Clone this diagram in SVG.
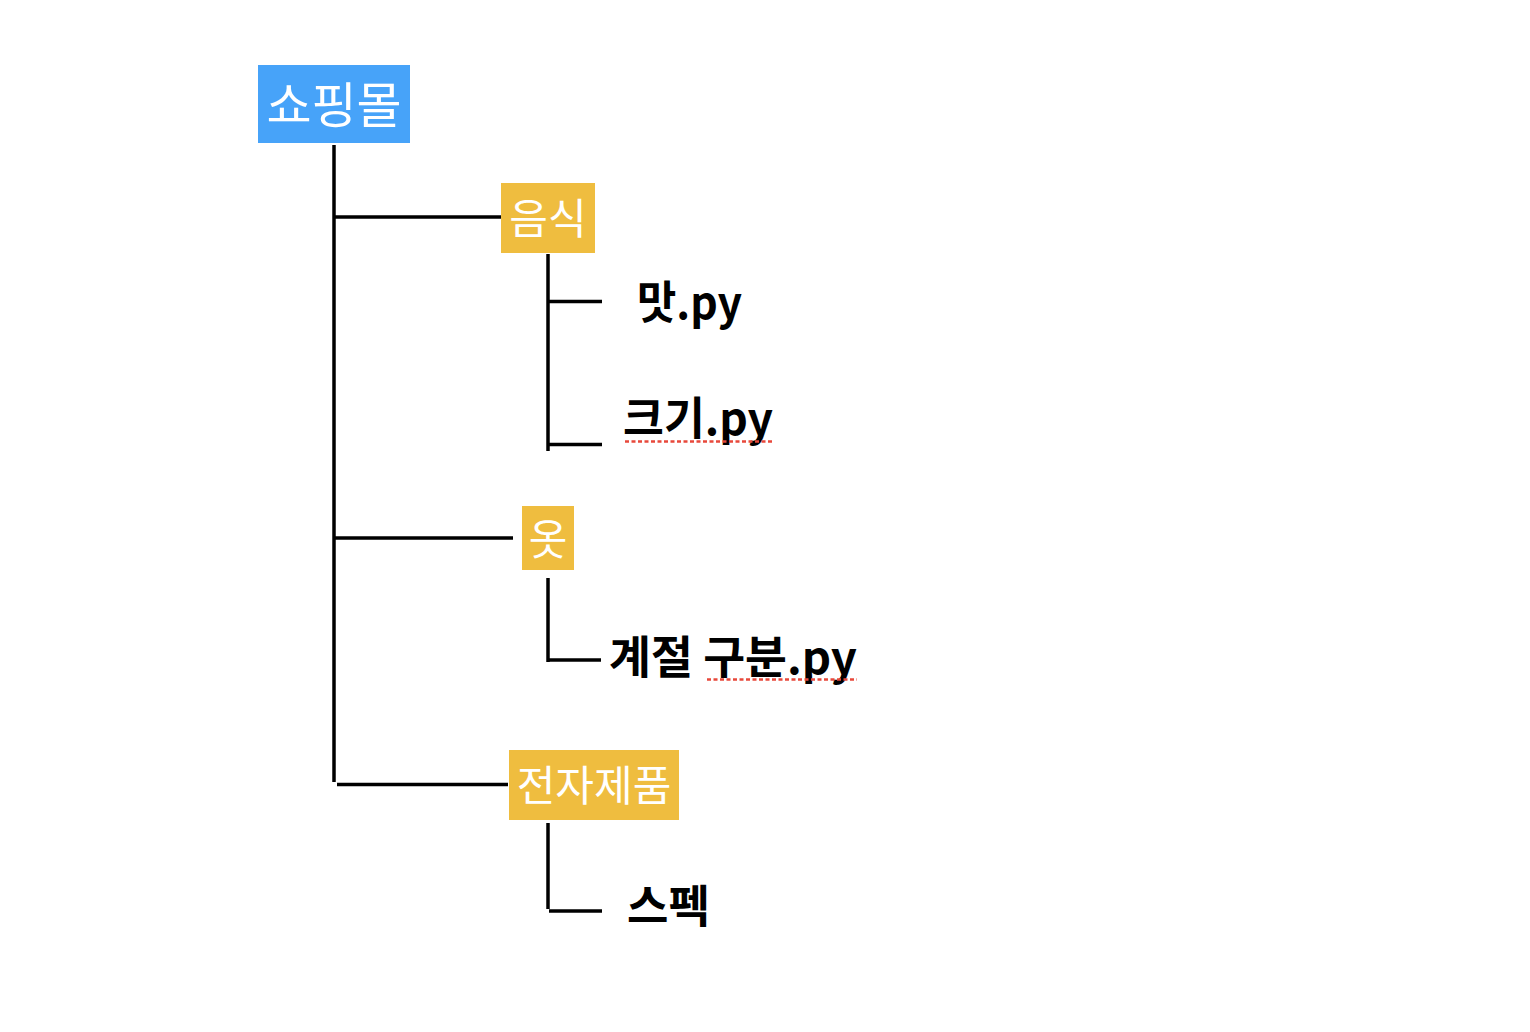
<svg xmlns="http://www.w3.org/2000/svg" width="1530" height="1032" viewBox="0 0 1530 1032">
<style>
.root{fill:#47A3F9}
.cat{fill:#EFBD3F}
.nt{fill:#ffffff;font-family:"Noto Sans CJK KR","Noto Sans",sans-serif;font-weight:400;text-anchor:middle}
.ft{fill:#000000;font-family:"Noto Sans CJK KR","Noto Sans",sans-serif;font-weight:700;font-size:45px}
.ln{stroke:#000;stroke-width:3.5;fill:none}
.sp{stroke:#E8483B;stroke-width:2.5;stroke-dasharray:4 2.5;fill:none}
</style>
<rect width="1530" height="1032" fill="#ffffff"/>
<g id="connectors">
<line class="ln" x1="334" y1="145" x2="334" y2="782"/>
<line class="ln" x1="334" y1="217" x2="501" y2="217"/>
<line class="ln" x1="334" y1="538" x2="513" y2="538"/>
<line class="ln" x1="337" y1="784.5" x2="508" y2="784.5"/>
<line class="ln" x1="548" y1="254" x2="548" y2="451"/>
<line class="ln" x1="548" y1="301.5" x2="602" y2="301.5"/>
<line class="ln" x1="548" y1="444.5" x2="602" y2="444.5"/>
<line class="ln" x1="548" y1="578" x2="548" y2="662"/>
<line class="ln" x1="548" y1="660" x2="601" y2="660"/>
<line class="ln" x1="548" y1="823" x2="548" y2="909"/>
<line class="ln" x1="549" y1="911" x2="602" y2="911"/>
</g>
<g id="n-root">
<rect class="root" x="258" y="65" width="152" height="78"/>
<text class="nt" x="334" y="123" font-size="49">쇼핑몰</text>
</g>
<g id="n-food">
<rect class="cat" x="501" y="183" width="94" height="70"/>
<text class="nt" x="548" y="234" font-size="42">음식</text>
</g>
<g id="n-taste">
<text class="ft" x="637" y="319" textLength="105" lengthAdjust="spacingAndGlyphs">맛.py</text>
</g>
<g id="n-size">
<text class="ft" x="623" y="435" textLength="150" lengthAdjust="spacingAndGlyphs">크기.py</text>
<line class="sp" x1="625" y1="441.5" x2="773" y2="441.5"/>
</g>
<g id="n-clothes">
<rect class="cat" x="522" y="506" width="52" height="64"/>
<text class="nt" x="548" y="555" font-size="42">옷</text>
</g>
<g id="n-season">
<text class="ft" x="609" y="674" textLength="248" lengthAdjust="spacingAndGlyphs">계절 구분.py</text>
<line class="sp" x1="707" y1="679.5" x2="857" y2="679.5"/>
</g>
<g id="n-elec">
<rect class="cat" x="509" y="750" width="170" height="70"/>
<text class="nt" x="594" y="801" font-size="42">전자제품</text>
</g>
<g id="n-spec">
<text class="ft" x="627" y="923">스펙</text>
</g>
</svg>
